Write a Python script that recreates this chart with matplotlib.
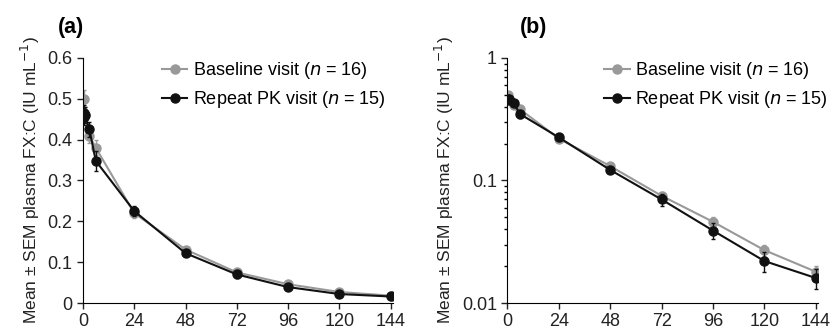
import numpy as np
import matplotlib.pyplot as plt
from matplotlib.lines import Line2D

plt.rcParams['font.family'] = ['Liberation Sans', 'DejaVu Sans']

# sampling times (h)
t_base = [0.25, 1, 3, 6, 24, 48, 72, 96, 120, 144]
base_mean = [0.50, 0.46, 0.41, 0.38, 0.22, 0.131, 0.075, 0.046, 0.027, 0.018]
base_sem = [0.022, 0.02, 0.018, 0.018, 0.012, 0.007, 0.005, 0.004, 0.003, 0.002]

t_rep = [0.25, 0.5, 1, 3, 6, 24, 48, 72, 96, 120, 144]
rep_mean = [0.455, 0.465, 0.46, 0.425, 0.348, 0.225, 0.122, 0.07, 0.039, 0.022, 0.016]
rep_sem = [0.02, 0.02, 0.02, 0.018, 0.025, 0.012, 0.007, 0.008, 0.006, 0.004, 0.003]

xticks = [0, 24, 48, 72, 96, 120, 144]
ylabel = 'Mean ± SEM plasma FX:C (IU mL$^{-1}$)'
grey = '#999999'
black = '#111111'

fig = plt.figure(figsize=(8.33, 3.33), dpi=100)
ax_a = fig.add_axes([0.0996, 0.09, 0.372, 0.736])
ax_b = fig.add_axes([0.609, 0.09, 0.373, 0.736])

handles = [
    Line2D([], [], color=grey, marker='o', ms=6.5, lw=1.5),
    Line2D([], [], color=black, marker='o', ms=6.5, lw=1.5),
]
labels = ['Baseline visit ($n$ = 16)', 'Repeat PK visit ($n$ = 15)']

for ax, xanchor in ((ax_a, 1.0), (ax_b, 1.055)):
    ax.errorbar(t_base, base_mean, yerr=base_sem, color=grey, marker='o', ms=6.5,
                lw=1.5, elinewidth=1, capsize=1.5, zorder=2)
    ax.errorbar(t_rep, rep_mean, yerr=rep_sem, color=black, marker='o', ms=6.5,
                lw=1.5, elinewidth=1, capsize=1.5, zorder=3)
    ax.set_xlim(0, 145)
    ax.set_xticks(xticks)
    for s in ('top', 'right'):
        ax.spines[s].set_visible(False)
    ax.tick_params(labelsize=13, length=4, width=1, colors='#222222')
    ax.set_ylabel(ylabel, fontsize=12.5, color='#222222')
    ax.legend(handles, labels, loc='upper right', frameon=False, fontsize=13,
              handlelength=1.4, handletextpad=0.3, borderaxespad=0.0,
              labelspacing=0.45, bbox_to_anchor=(xanchor, 1.02))

ax_a.set_ylim(0, 0.6)
ax_a.set_yticks([0, 0.1, 0.2, 0.3, 0.4, 0.5, 0.6])
ax_a.set_yticklabels(['0', '0.1', '0.2', '0.3', '0.4', '0.5', '0.6'])

ax_b.set_yscale('log')
ax_b.set_ylim(0.01, 1)
ax_b.set_yticks([0.01, 0.1, 1])
ax_b.set_yticklabels(['0.01', '0.1', '1'])
ax_b.tick_params(which='minor', length=2.5, width=1)

fig.text(0.070, 0.9, '(a)', fontsize=15.5, fontweight='bold')
fig.text(0.624, 0.9, '(b)', fontsize=15.5, fontweight='bold')

fig.savefig('out.png', dpi=100)
